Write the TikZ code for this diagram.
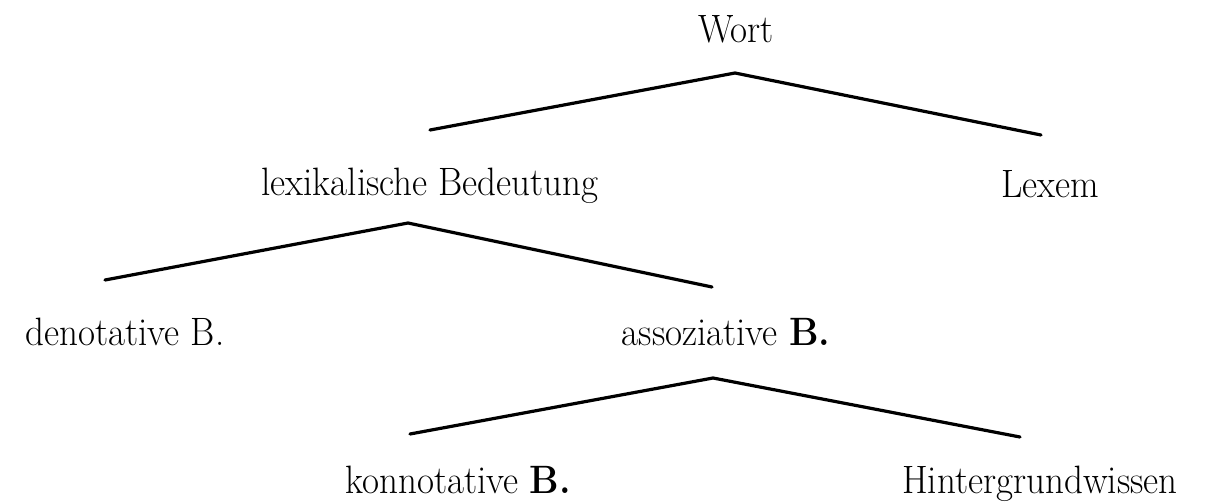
\documentclass[tikz,border=0pt]{standalone}
\begin{document}
\begin{tikzpicture}[x=1pt,y=-1pt,
  lbl/.style={anchor=base,inner sep=0pt,yscale=1.07,font=\fontsize{37}{44}\selectfont},
  branch/.style={line width=3.2pt,line cap=round,line join=round}]
\useasboundingbox (0,0) rectangle (1206,503);
\node[lbl] (wort) at (736,42) {Wort};
\node[lbl] (lexbed) at (430,195) {lexikalische Bedeutung};
\node[lbl] (lexem) at (1050,197) {Lexem};
\node[lbl] (denot) at (125,345) {denotative B.};
\node[lbl] (assoz) at (726,345) {assoziative \textbf{B.}};
\node[lbl] (konno) at (458,493) {konnotative \textbf{B.}};
\node[lbl] (hinter) at (1040,493) {Hintergrundwissen};
\coordinate (a1) at (735,73);
\coordinate (a1l) at (430,130);
\coordinate (a1r) at (1041,135);
\coordinate (a2) at (408,223);
\coordinate (a2l) at (105,280);
\coordinate (a2r) at (712,287);
\coordinate (a3) at (713,378);
\coordinate (a3l) at (410,434);
\coordinate (a3r) at (1020,437);
\draw[branch] (a1l) -- (a1) -- (a1r);
\draw[branch] (a2l) -- (a2) -- (a2r);
\draw[branch] (a3l) -- (a3) -- (a3r);
\end{tikzpicture}
\end{document}
